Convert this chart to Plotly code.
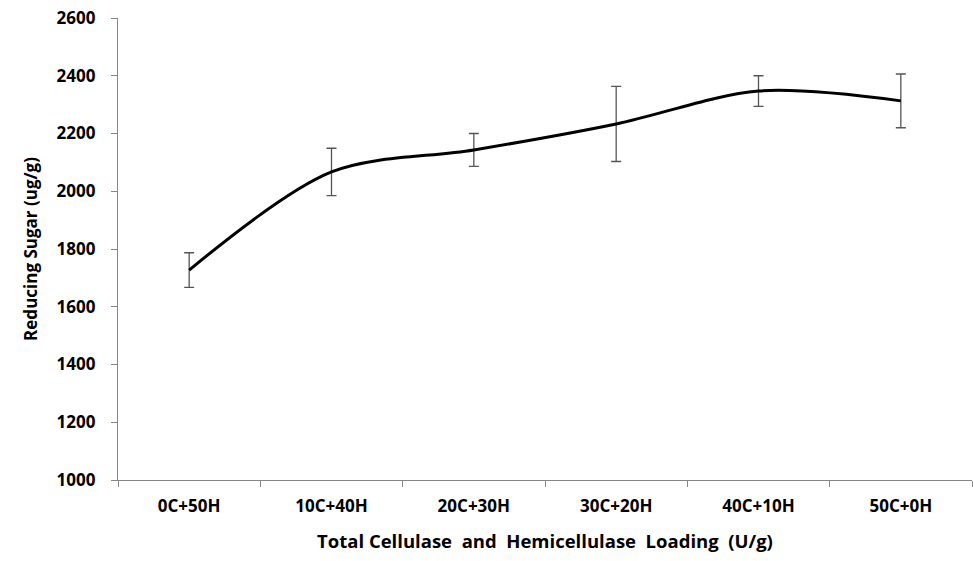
import plotly.graph_objects as go

categories = ["0C+50H", "10C+40H", "20C+30H", "30C+20H", "40C+10H", "50C+0H"]
sugar = [1727, 2067, 2143, 2233, 2347, 2313]
err = [60, 82, 57, 130, 53, 93]
y_ticks = [1000, 1200, 1400, 1600, 1800, 2000, 2200, 2400, 2600]

font_family = "Open Sans, Liberation Sans, Arial"

fig = go.Figure()
fig.add_trace(go.Scatter(
    x=categories, y=sugar, mode="lines",
    line=dict(color="black", width=3, shape="spline", smoothing=0.9),
    error_y=dict(type="data", array=err, visible=True, color="#555555", thickness=1.3, width=5),
    showlegend=False,
))

fig.update_layout(
    width=973, height=561,
    margin=dict(l=118, r=1, t=18, b=81),
    paper_bgcolor="white", plot_bgcolor="white",
    font=dict(family=font_family, color="black"),
    xaxis=dict(
        type="category", range=[-0.5, 5.5],
        showline=True, linecolor="#868686", linewidth=1.2,
        ticks="outside", tickson="boundaries", ticklen=6, tickcolor="#868686",
        tickfont=dict(size=17, family=font_family, weight="bold"),
        ticklabelstandoff=10,
        showgrid=False, zeroline=False,
        title=dict(text="<b>Total Cellulase  and  Hemicellulase  Loading  (U/g)</b>",
                   font=dict(size=18.5), standoff=19),
    ),
    yaxis=dict(
        range=[1000, 2600], tickvals=y_ticks,
        showline=True, linecolor="#868686", linewidth=1.2,
        ticks="outside", ticklen=6, tickcolor="#868686",
        tickfont=dict(size=17, family=font_family, weight="bold"),
        ticklabelstandoff=12,
        showgrid=False, zeroline=False,
        title=dict(text="<b>Reducing Sugar (ug/g)</b>", font=dict(size=17), standoff=14),
    ),
)

fig.write_html("out.html")
